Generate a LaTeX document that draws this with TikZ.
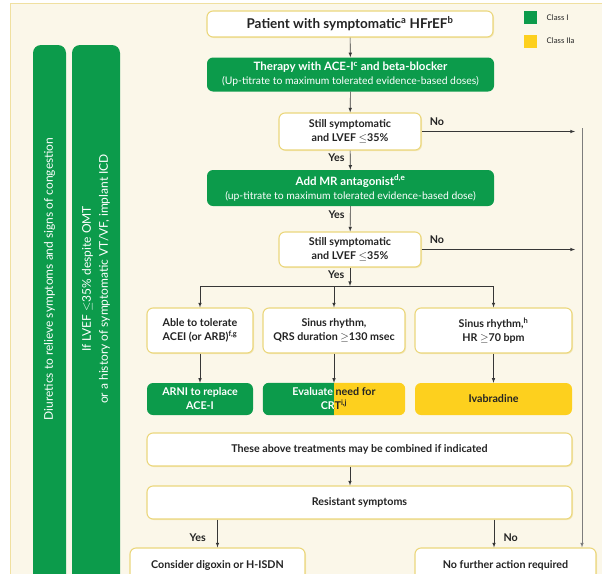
\documentclass[tikz,border=0pt]{standalone}
\usepackage{fontspec}
\setmainfont{Lato}
\usetikzlibrary{positioning,shadows}
\definecolor{cream}{RGB}{251,247,233}
\definecolor{rim}{RGB}{240,224,160}
\definecolor{hfgreen}{RGB}{12,155,75}
\definecolor{hfyellow}{RGB}{253,208,30}
\definecolor{boxrim}{RGB}{235,215,125}
\definecolor{ink}{RGB}{35,35,35}
\definecolor{wire}{RGB}{55,55,55}
\definecolor{sidewire}{RGB}{125,125,125}
\newcommand\boxfont{\fontsize{10.7}{14}\selectfont\bfseries}
\newcommand\headfont{\fontsize{11.5}{14}\selectfont\bfseries}
\newcommand\subfont{\fontsize{10.4}{13}\selectfont\mdseries}

\begin{document}
\begin{tikzpicture}[x=1pt,y=-1pt,
wbox/.style={draw=boxrim,line width=1.1pt,fill=white,rounded corners=6pt,align=center,text=ink,inner sep=0pt,font=\boxfont,
  drop shadow={shadow xshift=1pt,shadow yshift=-1pt,fill=boxrim,opacity=0.45}},
gbox/.style={fill=hfgreen,rounded corners=6pt,align=center,text=white,inner sep=0pt,font=\boxfont},
ybox/.style={fill=hfyellow,rounded corners=6pt,align=center,text=ink,inner sep=0pt,font=\boxfont},
bar/.style={fill=hfgreen,rounded corners=8pt},
bartxt/.style={text=white,rotate=90,align=center,font=\fontsize{12}{17}\selectfont},
arr/.style={-latex,draw=wire,line width=0.6pt},
yn/.style={text=ink,font=\boxfont},
legtxt/.style={text=ink,font=\fontsize{7.8}{9}\selectfont}]
\useasboundingbox (0,0) rectangle (602,573);
\clip (0,0) rectangle (602,573);
\fill[cream] (10,3) rectangle (620,590);
\draw[rim,line width=1pt] (10,590) -- (10,3) -- (620,3);
\fill[bar] (33,45) rectangle (66,600);
\fill[bar] (72,45) rectangle (120,600);
\node[bartxt] (diur) at (49.5,279) {Diuretics to relieve symptoms and signs of congestion};
\node[bartxt] (icd) at (96,279) {If LVEF \(\leq\)35\% despite OMT\\or a history of symptomatic VT/VF, implant ICD};
\node[fill=hfgreen,minimum size=13pt,inner sep=0pt] (leg1) at (530.5,17.5) {};
\node[fill=hfyellow,minimum size=13pt,inner sep=0pt] (leg2) at (530.5,41) {};
\node[legtxt,right=6pt of leg1] (leg1t) {Class I};
\node[legtxt,right=6pt of leg2] (leg2t) {Class IIa};
\node[wbox,minimum width=286pt,minimum height=26pt,font=\fontsize{13.5}{15}\selectfont\bfseries] (patient) at (350,24)
{Patient with symptomatic\textsuperscript{a} HFrEF\textsuperscript{b}};
\node[gbox,minimum width=287pt,minimum height=34pt] (therapy) at (350.5,74.5)
{{\headfont Therapy with ACE-I\textsuperscript{c} and beta-blocker}\\{\subfont (Up-titrate to maximum tolerated evidence-based doses)}};
\node[wbox,minimum width=142pt,minimum height=37pt] (dec1) at (350,131.5) {Still symptomatic\\and LVEF \(\leq\)35\%};
\node[gbox,minimum width=287pt,minimum height=36pt] (mra) at (350.5,188)
{{\headfont Add MR antagonist\textsuperscript{d,e}}\\{\subfont (up-titrate to maximum tolerated evidence-based dose)}};
\node[wbox,minimum width=142pt,minimum height=35pt] (dec2) at (350,249.5) {Still symptomatic\\and LVEF \(\leq\)35\%};
\node[wbox,minimum width=106pt,minimum height=45pt] (able) at (200,330.5) {Able to tolerate\\ACEI (or ARB)\textsuperscript{f,g}};
\node[wbox,minimum width=142pt,minimum height=45pt] (sinus) at (334,330.5) {Sinus rhythm,\\QRS duration \(\geq\)130 msec};
\node[wbox,minimum width=157pt,minimum height=45pt] (hr) at (493.5,330.5) {Sinus rhythm,\textsuperscript{h}\\HR \(\geq\)70 bpm};
\node[gbox,minimum width=106pt,minimum height=32pt] (arni) at (200,399) {ARNI to replace\\ACE-I};
\node[minimum width=142pt,minimum height=32pt,inner sep=0pt] (crt) at (334,399) {};
\begin{scope}
\clip (crt.north west) rectangle (crt.south);
\fill[hfgreen,rounded corners=6pt] (crt.north west) rectangle (crt.south east);
\node[align=center,text=white,font=\boxfont] (crtl) at (crt) {Evaluate need for\\CRT\textsuperscript{i,j}};
\end{scope}
\begin{scope}
\clip (crt.north) rectangle (crt.south east);
\fill[hfyellow,rounded corners=6pt] (crt.north west) rectangle (crt.south east);
\node[align=center,text=ink,font=\boxfont] (crtr) at (crt) {Evaluate need for\\CRT\textsuperscript{i,j}};
\end{scope}
\node[ybox,minimum width=157pt,minimum height=32pt] (ivab) at (493.5,399) {Ivabradine};
\node[wbox,minimum width=425pt,minimum height=33pt] (combo) at (359.5,449.5) {These above treatments may be combined if indicated};
\node[wbox,minimum width=425pt,minimum height=33pt] (resist) at (359.5,502.5) {Resistant symptoms};
\node[wbox,minimum width=175pt,minimum height=34pt] (digox) at (217.5,565) {Consider digoxin or H-ISDN};
\node[wbox,minimum width=181pt,minimum height=34pt] (nofur) at (505.5,565) {No further action required};
\coordinate (noend1) at (575,131.5);
\coordinate (noend2) at (575,249.5);
\coordinate (side) at (582,128);
\coordinate (split) at (350,286);
\coordinate (nocol) at (494,0);
\draw[arr] (patient) -- (therapy);
\draw[arr] (therapy) -- (dec1);
\draw[arr] (dec1) -- (mra) node[yn,pos=0.35,left=2pt] (yes1) {Yes};
\draw[arr] (mra) -- (dec2) node[yn,pos=0.35,left=2pt] (yes2) {Yes};
\draw[arr] (dec2) -- (split) node[yn,pos=0.4,left=2pt] (yes3) {Yes};
\draw[arr] (dec1.east) -- (noend1) node[yn,pos=0.1,above=2pt] (no1) {No};
\draw[arr] (dec2.east) -- (noend2) node[yn,pos=0.1,above=2pt] (no2) {No};
\draw[arr,draw=sidewire] (side) -- (side |- nofur.north);
\draw[wire,line width=0.6pt] (split -| able) -- (split -| hr);
\draw[arr] (split -| able) -- (able);
\draw[arr] (split -| sinus) -- (sinus);
\draw[arr] (split -| hr) -- (hr);
\draw[arr] (able) -- (arni);
\draw[arr] (sinus) -- (crt);
\draw[arr] (hr) -- (ivab);
\draw[arr] (combo.south -| patient) -- (resist.north -| patient);
\draw[arr] (resist.south -| digox) -- (digox.north) node[yn,pos=0.65,left=8pt] (yes4) {Yes};
\draw[arr] (resist.south -| nocol) -- (nofur.north -| nocol) node[yn,pos=0.65,right=6pt] (no4) {No};
\end{tikzpicture}
\end{document}
